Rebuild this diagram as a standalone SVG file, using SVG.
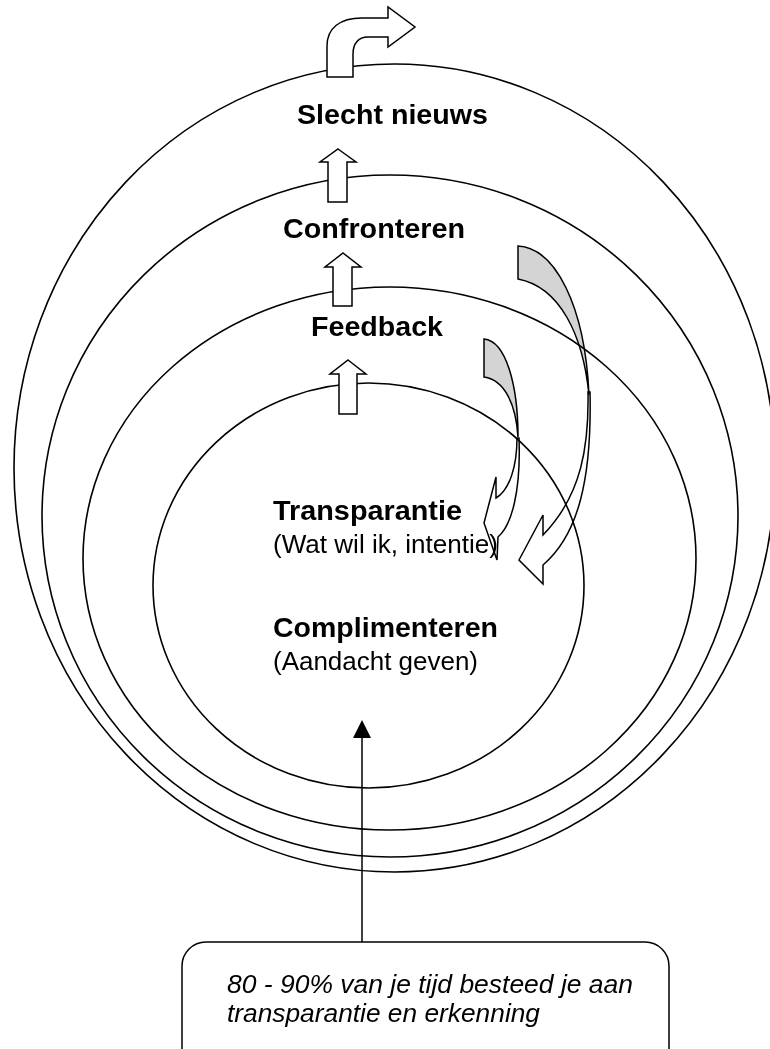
<svg xmlns="http://www.w3.org/2000/svg" width="770" height="1049" viewBox="0 0 770 1049">
<style>
.ring{fill:none;stroke:#000;stroke-width:1.6}
.blk{fill:#fff;stroke:#000;stroke-width:1.5;stroke-linejoin:miter}
.crv{stroke:#000;stroke-width:1.5;mix-blend-mode:multiply}
.gray{fill:#d4d4d4}
.wht{fill:#fff}
.b{font-family:"Liberation Sans",Arial,sans-serif;font-weight:bold;font-size:28px;fill:#000}
.r{font-family:"Liberation Sans",Arial,sans-serif;font-size:25px;fill:#000}
.i{font-family:"Liberation Sans",Arial,sans-serif;font-style:italic;font-size:26px;fill:#000}
</style>
<rect width="770" height="1049" fill="#fff"/>
<g id="node-slecht-nieuws">
<ellipse class="ring" cx="394.5" cy="468" rx="380.5" ry="404"/>
<text class="b" x="297" y="124" textLength="191" lengthAdjust="spacingAndGlyphs">Slecht nieuws</text>
</g>
<g id="node-confronteren">
<ellipse class="ring" cx="390" cy="516" rx="348" ry="341"/>
<text class="b" x="283" y="238" textLength="182" lengthAdjust="spacingAndGlyphs">Confronteren</text>
</g>
<g id="node-feedback">
<ellipse class="ring" cx="389.5" cy="558.5" rx="306.5" ry="271.5"/>
<text class="b" x="311" y="336" textLength="132" lengthAdjust="spacingAndGlyphs">Feedback</text>
</g>
<g id="node-kern">
<ellipse class="ring" cx="368.5" cy="585.5" rx="215.5" ry="202.5"/>
<text class="b" x="273" y="520" textLength="189" lengthAdjust="spacingAndGlyphs">Transparantie</text>
<text class="r" x="273" y="553" textLength="225" lengthAdjust="spacingAndGlyphs">(Wat wil ik, intentie)</text>
<text class="b" x="273" y="637" textLength="225" lengthAdjust="spacingAndGlyphs">Complimenteren</text>
<text class="r" x="273" y="670" textLength="205" lengthAdjust="spacingAndGlyphs">(Aandacht geven)</text>
</g>
<g id="node-toelichting">
<rect x="182" y="942" width="487" height="140" rx="24" ry="24" fill="#fff" stroke="#000" stroke-width="1.5"/>
<text class="i" x="227" y="993" textLength="406" lengthAdjust="spacingAndGlyphs">80 - 90% van je tijd besteed je aan</text>
<text class="i" x="227" y="1022" textLength="313" lengthAdjust="spacingAndGlyphs">transparantie en erkenning</text>
</g>
<g id="connectors">
<path class="blk" d="M327,77 L327,46 C327,28 340,18 362,18 L388,18 L388,7 L415,27 L388,47 L388,37 L368,37 C358,37 353,44 353,54 L353,77 Z"/>
<polygon class="blk" points="338,149 356,162 347,162 347,202 328,202 328,162 320,162"/>
<polygon class="blk" points="343,253 361,267 352,267 352,306 333,306 333,267 325,267"/>
<polygon class="blk" points="348,360 366,374 357,374 357,414 339,414 339,374 330,374"/>
<path class="crv gray" d="M518,246 C555,248 585,305 589,395 C583,335 560,287 518,279 Z"/>
<path class="crv wht" d="M588,392 C589,445 582,495 543,535 L543,515 L519,560 L543,584 L543,565 C578,535 592,480 590,392 Z"/>
<path class="crv gray" d="M484,339 C506,341 518,385 518,437 C516,405 505,380 484,377 Z"/>
<path class="crv wht" d="M517,438 C517,465 510,490 496,498 L496,477 L484,523 L497,560 L498,537 C512,525 521,490 519,438 Z"/>
<line x1="362" y1="942" x2="362" y2="736" stroke="#000" stroke-width="1.5"/>
<polygon points="362,720 371,738 353,738" fill="#000"/>
</g>
</svg>
